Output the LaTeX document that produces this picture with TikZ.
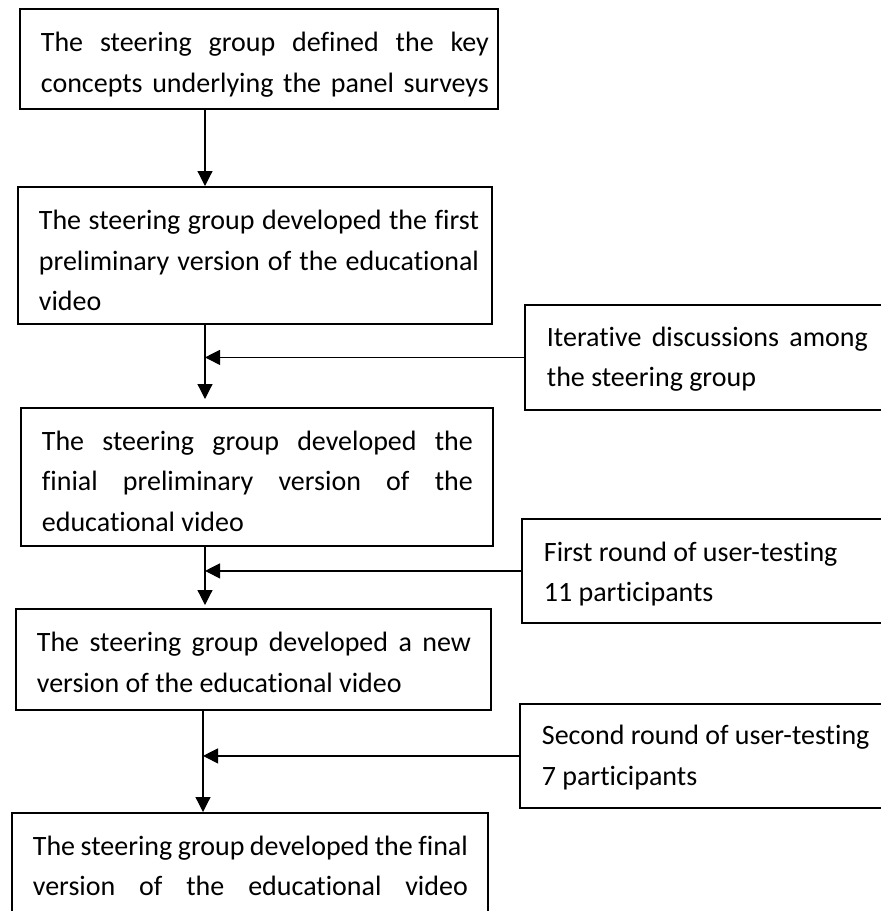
\documentclass[tikz,border=0pt]{standalone}
\usepackage{fontspec}
\setmainfont{Carlito}[Ligatures=NoCommon]
\usetikzlibrary{arrows.meta}
\newcommand\boxtext[2][12pt]{\vbox{\spaceskip=0pt\xspaceskip=0pt\baselineskip=40.5pt\kern#1 #2}}
\newcommand\jline[2]{\hbox to #1{#2}}
\newcommand\nline[1]{\hbox{#1}}
\begin{document}
\begin{tikzpicture}[x=1pt,y=-1pt,
  box/.style={draw, line width=1.8pt, anchor=north west, inner xsep=21pt, inner ysep=0pt, align=left, font=\fontsize{28}{40.5}\selectfont},
  sidebox/.style={box, inner xsep=22pt, text width=360pt},
  conn/.style={line width=1.2pt, -{Triangle[length=15pt,width=15pt]}}]
\useasboundingbox (0,0) rectangle (881,911);
\clip (0,0) rectangle (881,911);

\node[box, text width=436pt, minimum height=100pt] (b1) at (19,8)
  {\boxtext{\jline{448pt}{The steering group defined the key}\jline{448pt}{concepts underlying the panel surveys}}};
\node[box, text width=432pt, minimum height=137pt] (b2) at (17,186)
  {\boxtext[10pt]{\jline{440pt}{The steering group developed the first}\jline{440pt}{preliminary version of the educational}\nline{video}}};
\node[sidebox, minimum height=105pt] (s1) at (524,304)
  {\boxtext[4pt]{\jline{321pt}{Iterative discussions among}\nline{the steering group}}};
\node[box, text width=430pt, minimum height=138pt] (b3) at (20,407)
  {\boxtext[8pt]{\jline{431pt}{The steering group developed the}\jline{431pt}{finial preliminary version of the}\nline{educational video}}};
\node[sidebox, minimum height=104pt] (s2) at (521,518)
  {\boxtext[6pt]{\nline{First round of user-testing}\nline{11 participants}}};
\node[box, text width=433pt, minimum height=101pt] (b4) at (15,608)
  {\boxtext[6pt]{\jline{434pt}{The steering group developed a new}\nline{version of the educational video}}};
\node[sidebox, minimum height=104pt] (s3) at (519,703)
  {\boxtext[3pt]{\nline{Second round of user-testing}\nline{7 participants}}};
\node[box, text width=434pt, minimum height=100pt] (b5) at (11,812)
  {\boxtext[6pt]{\jline{435pt}{The steering group developed the final}\jline{435pt}{version of the educational video}}};

\coordinate (ax) at (205,0);
\coordinate (ax2) at (203,0);
\draw[conn] (b1.south -| ax) -- (b2.north -| ax);
\draw[conn, shorten >=8pt] (b2.south -| ax) -- (b3.north -| ax);
\draw[conn] (s1.west) -- (s1.west -| ax);
\draw[conn, shorten >=3pt] (b3.south -| ax) -- (b4.north -| ax);
\draw[conn] (s2.west) -- (s2.west -| ax);
\draw[conn] (b4.south -| ax2) -- (b5.north -| ax2);
\draw[conn] (s3.west) -- (s3.west -| ax2);
\end{tikzpicture}
\end{document}
